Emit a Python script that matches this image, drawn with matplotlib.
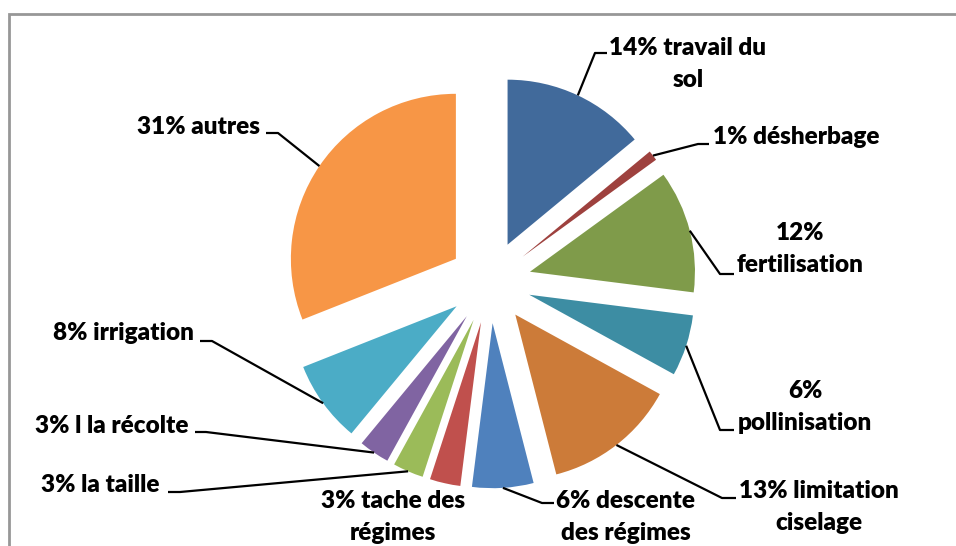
import matplotlib
matplotlib.use("Agg")
import matplotlib.pyplot as plt
import numpy as np

# Share of working time per task (percent)
categories = ["travail du\nsol", "désherbage", "fertilisation", "pollinisation",
              "limitation\nciselage", "descente\ndes régimes", "tache des\nrégimes",
              "la taille", "l la récolte", "irrigation", "autres"]
values = [14, 1, 12, 6, 13, 6, 3, 3, 3, 8, 31]
label_texts = ["14% travail du\nsol", "1% désherbage", "12%\nfertilisation",
               "6%\npollinisation", "13% limitation\nciselage", "6% descente\ndes régimes",
               "3% tache des\nrégimes", "3% la taille", "3% l la récolte",
               "8% irrigation", "31% autres"]
colors = ["#416A9B", "#9E413E", "#7F9B4A", "#3D8DA3", "#CC7B39",
          "#4F81BD", "#C0504D", "#9BBB59", "#8064A2", "#4BACC6", "#F79646"]

W, H = 956, 546
fig = plt.figure(figsize=(W / 100, H / 100), dpi=100)
ax = fig.add_axes([0, 0, 1, 1])


def Y(y):
    # layout numbers are measured from the top edge
    return H - y


R = 165
wedges, _ = ax.pie(values, colors=colors, startangle=90, counterclock=False,
                   explode=[0.25 * R] * len(values), radius=R, center=(490, Y(282)),
                   wedgeprops=dict(linewidth=0))

ax.set_xlim(0, W)
ax.set_ylim(0, H)
ax.set_aspect("equal")
ax.axis("off")

# label layout: text centre, leader knee, leader end (None = no leader)
layout = [
    ((688, 64), (595, 53), (607, 53)),
    ((796, 137), (698, 144), (709, 144)),
    ((800, 249), (720, 274), (734, 274)),
    ((805, 407), (720, 430), (734, 430)),
    ((819, 507), (722, 498), (736, 498)),
    ((626, 517), (542, 503), (554, 503)),
    ((393, 517), None, None),
    ((100, 485), (180, 492), (168, 492)),
    ((112, 426), (206, 432), (195, 432)),
    ((123, 333), (212, 341), (200, 341)),
    ((199, 127), (278, 133), (266, 133)),
]

font = dict(family=["Lato", "DejaVu Sans"], weight="heavy", size=17.5)

for w, txt, (tpos, knee, end) in zip(wedges, label_texts, layout):
    ax.text(tpos[0], Y(tpos[1]), txt, ha="center", va="center",
            linespacing=1.52, color="black", **font)
    if knee is None:
        continue
    mid = np.deg2rad((w.theta1 + w.theta2) / 2)
    ax_x = w.center[0] + w.r * np.cos(mid)
    ax_y = w.center[1] + w.r * np.sin(mid)
    ax.plot([ax_x, knee[0], end[0]], [ax_y, Y(knee[1]), Y(end[1])],
            color="black", lw=1.6, solid_capstyle="butt", zorder=5)

# chart area frame
ax.plot([9, 9, W], [0, Y(14), Y(14)], color="#979797", lw=2.0,
        solid_joinstyle="miter", clip_on=False)

fig.savefig("out.png", dpi=100, facecolor="white")
